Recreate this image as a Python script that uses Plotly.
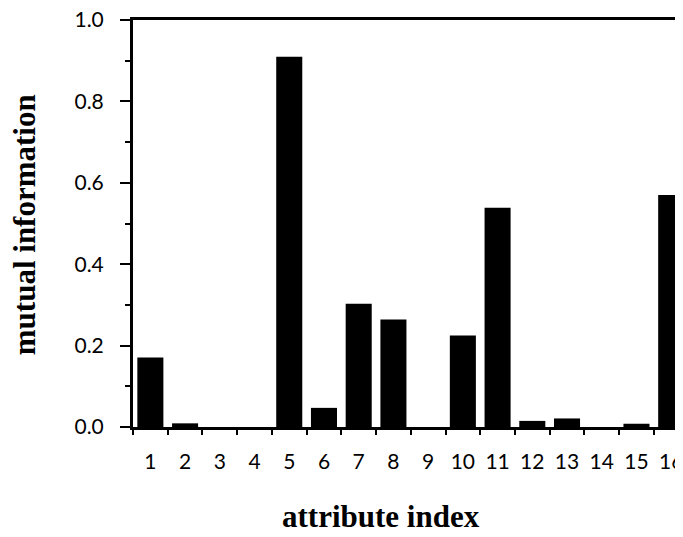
import plotly.graph_objects as go

attributes = list(range(1, 17))
attribute_labels = [str(a) for a in attributes]
mutual_info = [0.171, 0.009, 0.0, 0.0, 0.910, 0.047, 0.303, 0.264,
               0.0, 0.225, 0.539, 0.015, 0.021, 0.0, 0.008, 0.570]
y_ticks = [0.0, 0.2, 0.4, 0.6, 0.8, 1.0]
y_tick_labels = ["0.0", "0.2", "0.4", "0.6", "0.8", "1.0"]

fig = go.Figure(go.Bar(x=attributes, y=mutual_info, width=0.75,
                       marker=dict(color="black", line=dict(width=0))))

tick_font = dict(family="Lato, Open Sans, sans-serif", size=21, color="black")
title_font = dict(family="Liberation Serif, Times New Roman, serif", size=31, color="black")

fig.update_layout(
    width=683, height=529,
    margin=dict(l=125, r=8, t=12, b=110),
    plot_bgcolor="white", paper_bgcolor="white",
    showlegend=False,
    xaxis=dict(
        range=[0.5, 16.34], tickmode="array", tickvals=attributes,
        ticktext=attribute_labels, ticks="", tickfont=tick_font,
        showline=True, linecolor="black", linewidth=2.5, mirror=True,
        showgrid=False, zeroline=False, ticklabelstandoff=14,
        ticklabeloverflow="allow", automargin=False,
        minor=dict(tickmode="array", tickvals=[i + 0.5 for i in range(0, 16)],
                   ticks="outside", ticklen=5, tickwidth=2, tickcolor="black"),
    ),
    yaxis=dict(
        range=[0, 1.0], tickmode="array", tickvals=y_ticks, ticktext=y_tick_labels,
        ticks="outside", ticklen=10, tickwidth=2, tickcolor="black",
        tickfont=tick_font, showline=True, linecolor="black", linewidth=3,
        showgrid=False, zeroline=False, ticklabelstandoff=12,
        ticklabeloverflow="allow", automargin=False,
        minor=dict(dtick=0.1, tick0=0, ticks="outside", ticklen=5, tickwidth=2, tickcolor="black"),
    ),
    annotations=[
        dict(text="<b>attribute index</b>", font=title_font, xref="paper", yref="paper",
             x=0.451, y=-0.221, xanchor="center", yanchor="middle", showarrow=False),
        dict(text="<b>mutual information</b>", font=title_font, xref="paper", yref="paper",
             x=-0.198, y=0.496, xanchor="center", yanchor="middle", textangle=-90,
             showarrow=False),
    ],
)

fig.write_html("out.html")
